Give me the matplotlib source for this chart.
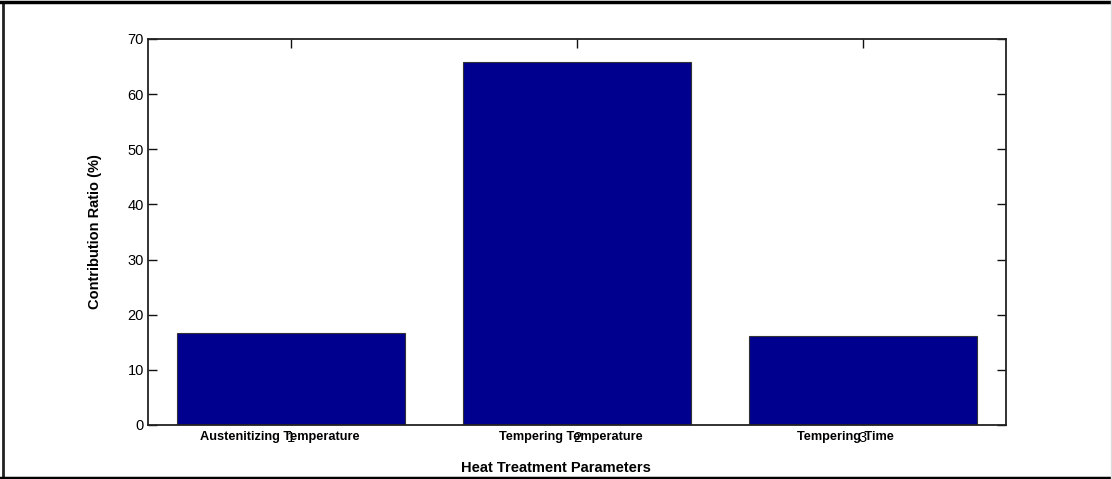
import matplotlib
matplotlib.use("Agg")
import matplotlib.pyplot as plt
from matplotlib.lines import Line2D

plt.rcParams["font.family"] = ["Liberation Sans", "DejaVu Sans"]

# contribution of each heat-treatment factor (%)
params = ["Austenitizing Temperature", "Tempering Temperature", "Tempering Time"]
ratio = [16.6, 65.8, 16.1]
positions = [1, 2, 3]
label_shift = [-0.04, -0.02, -0.06]   # category text sits a bit left of each tick

W, H = 1112, 479
fig = plt.figure(figsize=(W / 100, H / 100), dpi=100, facecolor="white")
ax = fig.add_axes([148 / W, 1 - 425 / H, (1006 - 148) / W, (425 - 39) / H])

ax.bar(positions, ratio, width=0.8, color="#00008F", edgecolor="#333333",
       linewidth=0.8, zorder=2)

ax.set_xlim(0.5, 3.5)
ax.set_ylim(0, 70)
ax.set_xticks(positions)
ax.set_xticklabels([str(p) for p in positions])
ax.set_yticks(range(0, 71, 10))

ax.tick_params(direction="in", length=6.5, width=1.0, color="#111111",
               labelsize=10.5, top=True, right=True)
ax.tick_params(axis="x", pad=4.5)
ax.tick_params(axis="y", pad=3)
for s in ax.spines.values():
    s.set_color("#222222")
    s.set_linewidth(1.3)

# category names drawn over the numeric ticks
for p, name, dx in zip(positions, params, label_shift):
    ax.annotate(name, xy=(p + dx, 0), xycoords=("data", "axes fraction"),
                xytext=(0, -8.5), textcoords="offset points",
                ha="center", va="center", fontsize=9.2, fontweight="bold")

ax.set_ylabel("Contribution Ratio (%)", fontsize=10.5, fontweight="bold",
              labelpad=18)
fig.text(0.5, 1 - 468 / H, "Heat Treatment Parameters",
         ha="center", va="center", fontsize=10.5, fontweight="bold")

# outer frame around the figure
frame = [
    ((3 / W, 3 / W), (1 - 2 / H, 1 - 478 / H), "#222222", 2.0),
    ((0, 1), (1 - 2 / H, 1 - 2 / H), "black", 2.5),
    ((0, 1), (1 - 477.5 / H, 1 - 477.5 / H), "black", 2.5),
    ((1111 / W, 1111 / W), (0, 1), "#dddddd", 1.0),
]
for xs, ys, c, lw in frame:
    fig.add_artist(Line2D(xs, ys, color=c, linewidth=lw,
                          transform=fig.transFigure))

fig.savefig("out.png", dpi=100, facecolor="white")
